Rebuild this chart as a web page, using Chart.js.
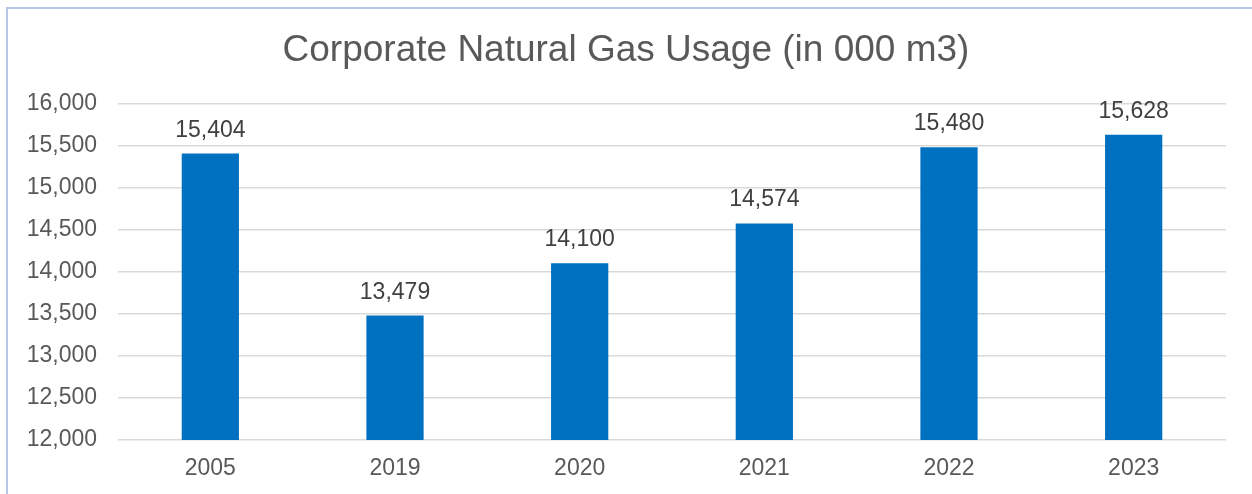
<!DOCTYPE html>
<html>
<head>
<meta charset="utf-8">
<script src="https://cdn.jsdelivr.net/npm/chart.js@4.4.1/dist/chart.umd.min.js"></script>
<style>
  body { margin: 0; background: #fff; }
  #wrap { position: relative; width: 1252px; height: 494px; overflow: hidden; }
  #frame {
    position: absolute; left: 6px; top: 7px; width: 1300px; height: 600px;
    border-left: 2px solid #B4C7E7; border-top: 2px solid #B4C7E7;
  }
  canvas { position: absolute; left: 0; top: 0; }
</style>
</head>
<body>
<div id="wrap">
  <div id="frame"></div>
  <canvas id="gasChart" width="1252" height="494"></canvas>
</div>
<script>
"use strict";

// Data
const years = ["2005", "2019", "2020", "2021", "2022", "2023"];
const usage = [15404, 13479, 14100, 14574, 15480, 15628];
const yMin = 12000;
const yMax = 16000;
const yStep = 500;

const fontFam = "'Liberation Sans', Arial, sans-serif";

// Labels above the bars
const barLabels = {
    id: "barLabels",
    afterDatasetsDraw(chart) {
        const ctx = chart.ctx;
        const meta = chart.getDatasetMeta(0);
        ctx.save();
        ctx.font = "23px " + fontFam;
        ctx.fillStyle = "#404040";
        ctx.textAlign = "center";
        ctx.textBaseline = "alphabetic";
        meta.data.forEach((bar, i) => {
            ctx.fillText(usage[i].toLocaleString("en-US"), bar.x, bar.y - 17);
        });
        ctx.restore();
    }
};

const ctx = document.getElementById("gasChart");
new Chart(ctx, {
    type: "bar",
    data: {
        labels: years,
        datasets: [{
            label: "Natural Gas Usage",
            data: usage,
            backgroundColor: "#0070C0",
            barPercentage: 0.31,
            categoryPercentage: 1
        }]
    },
    options: {
        responsive: false,
        animation: false,
        devicePixelRatio: 1,
        layout: {
            padding: { left: 0, right: 0, top: 0, bottom: 0 }
        },
        plugins: {
            legend: { display: false },
            tooltip: { enabled: false },
            title: {
                display: true,
                text: "Corporate Natural Gas Usage (in 000 m3)",
                color: "#595959",
                font: { family: fontFam, size: 37, weight: "normal" },
                padding: { top: 29, bottom: 30 }
            }
        },
        scales: {
            x: {
                grid: { display: false },
                border: { display: false },
                ticks: {
                    color: "#595959",
                    font: { family: fontFam, size: 23 },
                    padding: 7
                },
                afterFit(scale) { scale.height = 54; }
            },
            y: {
                min: yMin,
                max: yMax,
                grid: { color: "#D9D9D9", lineWidth: 1.5, drawTicks: false },
                border: { display: false },
                ticks: {
                    stepSize: yStep,
                    color: "#595959",
                    font: { family: fontFam, size: 23 },
                    padding: 21,
                    callback: v => v.toLocaleString("en-US")
                },
                afterFit(scale) { scale.width = 118; }
            },
            // empty axis, only keeps the right margin
            yRight: {
                position: "right",
                min: yMin,
                max: yMax,
                grid: { display: false },
                border: { display: false },
                ticks: { display: false },
                afterFit(scale) { scale.width = 26; }
            }
        }
    },
    plugins: [barLabels]
});
</script>
</body>
</html>
